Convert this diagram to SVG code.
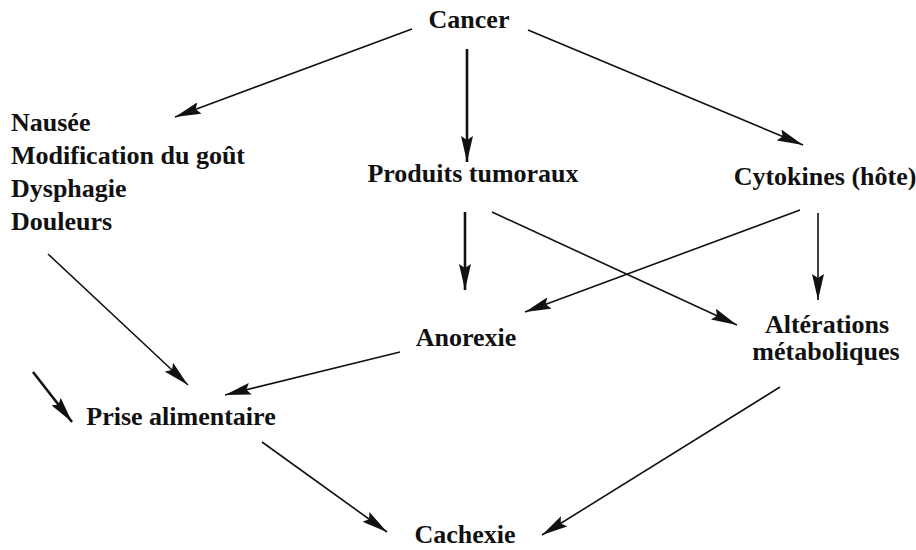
<svg xmlns="http://www.w3.org/2000/svg" width="916" height="550" viewBox="0 0 916 550">
<style>
text{font-family:"Liberation Serif","DejaVu Serif",serif;font-weight:bold;font-size:26px;fill:#111}
.c{text-anchor:middle}
line{stroke:#111;stroke-width:1.6;fill:none}
.t{stroke-width:2.6}
</style>
<defs>
<marker id="ah" viewBox="0 0 26 12" refX="26" refY="6" markerWidth="26" markerHeight="12" markerUnits="userSpaceOnUse" orient="auto">
<path d="M0,0 L26,6 L0,12 L4,6 Z" fill="#111"/>
</marker>
</defs>
<rect width="916" height="550" fill="#fff"/>
<g id="connectors">
<line x1="412" y1="29" x2="175" y2="117" marker-end="url(#ah)"/>
<line class="t" x1="467" y1="49" x2="467" y2="162" marker-end="url(#ah)"/>
<line x1="528" y1="30" x2="803" y2="145" marker-end="url(#ah)"/>
<line class="t" x1="465" y1="212" x2="465" y2="290" marker-end="url(#ah)"/>
<line x1="492" y1="212" x2="737" y2="325" marker-end="url(#ah)"/>
<line x1="800" y1="210" x2="525" y2="312" marker-end="url(#ah)"/>
<line x1="818" y1="213" x2="818" y2="300" marker-end="url(#ah)"/>
<line x1="48" y1="254" x2="188" y2="385" marker-end="url(#ah)"/>
<line x1="400" y1="352" x2="225" y2="395" marker-end="url(#ah)"/>
<line class="t" x1="33" y1="372" x2="72" y2="422" marker-end="url(#ah)"/>
<line x1="262" y1="442" x2="387" y2="532" marker-end="url(#ah)"/>
<line x1="780" y1="387" x2="542" y2="535" marker-end="url(#ah)"/>
</g>
<g id="cancer"><text class="c" x="469" y="28">Cancer</text></g>
<g id="symptomes">
<text x="11" y="131">Nausée</text>
<text x="11" y="164">Modification du goût</text>
<text x="11" y="197">Dysphagie</text>
<text x="11" y="230">Douleurs</text>
</g>
<g id="produits"><text class="c" x="473" y="182">Produits tumoraux</text></g>
<g id="cytokines"><text class="c" x="825" y="185">Cytokines (hôte)</text></g>
<g id="anorexie"><text class="c" x="466" y="346">Anorexie</text></g>
<g id="alterations">
<text class="c" x="827" y="333">Altérations</text>
<text class="c" x="826" y="360">métaboliques</text>
</g>
<g id="prise"><text class="c" x="181" y="425">Prise alimentaire</text></g>
<g id="cachexie"><text class="c" x="465" y="543">Cachexie</text></g>
</svg>
